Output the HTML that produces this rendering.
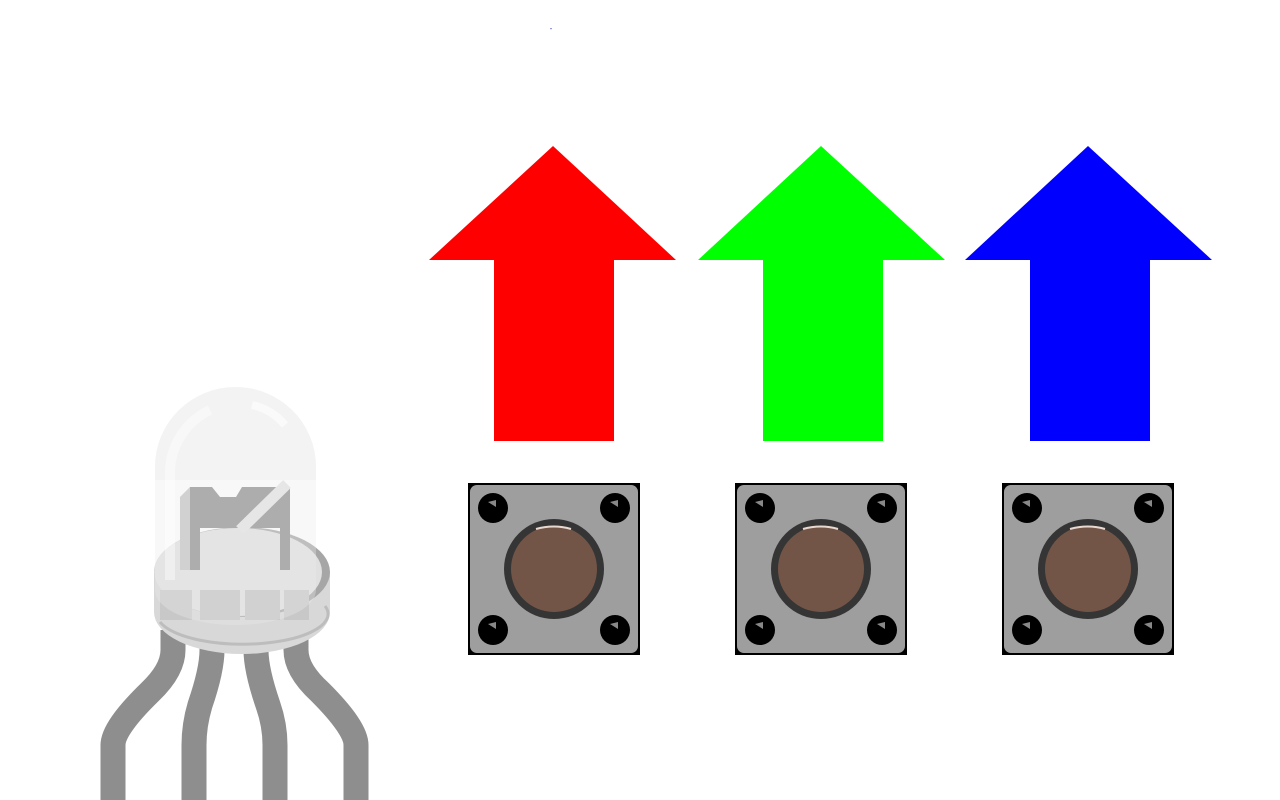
<!DOCTYPE html>
<html><head><meta charset="utf-8"><style>html,body{margin:0;padding:0;background:#fff;width:1280px;height:800px;overflow:hidden}</style></head>
<body>
<svg width="1280" height="800" viewBox="0 0 1280 800" xmlns="http://www.w3.org/2000/svg">
<text x="550" y="32" font-family="Liberation Sans, sans-serif" font-size="5" fill="#00a">"</text>
<g>
 <g fill="none" stroke="#8e8e8e" stroke-width="25">
  <path d="M173 630 V650 Q173 670 150 692 Q113 728 113 745 V800"/>
  <path d="M212 630 V650 Q212 670 200 705 Q194 725 194 745 V800"/>
  <path d="M256 630 V650 Q256 670 268 705 Q275 725 275 745 V800"/>
  <path d="M296 630 V650 Q296 670 320 692 Q356 728 356 745 V800"/>
 </g>
 <path d="M154 572 V612 A88 42 0 0 0 330 612 V572 Z" fill="#d8d8d8"/>
 <ellipse cx="242" cy="572" rx="88" ry="45" fill="#a6a6a6"/>
 <ellipse cx="238" cy="572" rx="84" ry="44" fill="#e0e0e0"/>
 <path d="M160 622 A85 30 0 0 0 325 606" fill="none" stroke="#bdbdbd" stroke-width="3"/>
 <g>
  <polygon points="180,497 190,487 190,570 180,570" fill="#c4c4c4"/>
  <polygon points="190,487 212,487 220,497 236,497 242,487 290,487 290,570 280,570 280,528 200,528 200,570 190,570" fill="#8c8c8c"/>
  <line x1="287" y1="484" x2="240" y2="530" stroke="#e4e4e4" stroke-width="11"/>
  <rect x="160" y="590" width="32" height="30" fill="#c8c8c8"/>
  <rect x="200" y="590" width="40" height="30" fill="#c4c4c4"/>
  <rect x="245" y="590" width="35" height="30" fill="#c4c4c4"/>
  <rect x="284" y="590" width="25" height="30" fill="#c8c8c8"/>
 </g>
 <path d="M155 590 V467 A80.5 80 0 0 1 316 467 V590 A80.5 35 0 0 1 155 590 Z" fill="#ececec" fill-opacity="0.35"/>
 <path d="M155 467 A80.5 80 0 0 1 316 467 V480 H155 Z" fill="#f2f2f2" fill-opacity="0.85"/>
 <path d="M170 580 V470 A70 70 0 0 1 210 410" fill="none" stroke="#fff" stroke-opacity="0.4" stroke-width="10"/>
 <path d="M252 405 A60 60 0 0 1 285 425" fill="none" stroke="#fafafa" stroke-width="8"/>
</g>
<g>
 <polygon points="553,146 676,260 614,260 614,441 494,441 494,260 429,260" fill="#ff0000"/>
 <polygon points="821,146 945,260 883,260 883,441 763,441 763,260 698,260" fill="#00ff00"/>
 <polygon points="1088,146 1212,260 1150,260 1150,441 1030,441 1030,260 965,260" fill="#0000ff"/>
</g>
<defs>
 <g id="btn">
  <rect x="-86" y="-86" width="172" height="172" fill="#000"/>
  <rect x="-84" y="-84" width="168" height="168" rx="7" fill="#9e9e9e"/>
  <circle cx="-61" cy="-61" r="15" fill="#000"/><circle cx="61" cy="-61" r="15" fill="#000"/>
  <circle cx="-61" cy="61" r="15" fill="#000"/><circle cx="61" cy="61" r="15" fill="#000"/>
  <path d="M-66 -67 L-58 -69 L-58 -62 Z M56 -67 L64 -69 L64 -62 Z M-66 55 L-58 53 L-58 60 Z M56 55 L64 53 L64 60 Z" fill="#888"/>
  <circle r="50" fill="#353535"/>
  <circle r="43" fill="#735548"/>
  <path d="M-18 -40 Q0 -45 17 -40" stroke="#e8d8d0" stroke-width="2" fill="none"/>
 </g>
</defs>
<use href="#btn" x="554" y="569"/>
<use href="#btn" x="821" y="569"/>
<use href="#btn" x="1088" y="569"/>
</svg>
</body></html>
